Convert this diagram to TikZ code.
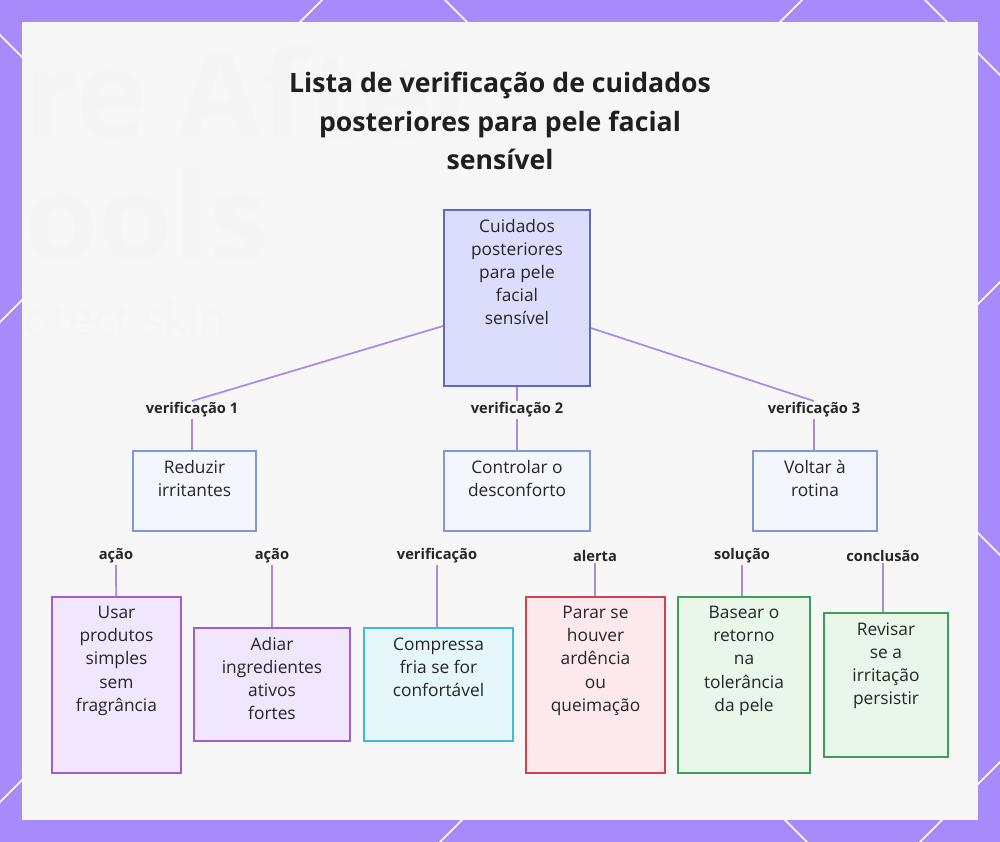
\documentclass[tikz,border=0pt]{standalone}
\usepackage{fontspec}
\setmainfont{Open Sans}
\definecolor{framepurple}{HTML}{A78BFA}
\definecolor{edgepurple}{HTML}{A98BE6}
\definecolor{rootfill}{HTML}{DCDDFC}
\definecolor{rootdraw}{HTML}{5C6BC0}
\definecolor{midfill}{HTML}{F4F6FE}
\definecolor{middraw}{HTML}{7F98DA}
\definecolor{purfill}{HTML}{F0E6FD}
\definecolor{purdraw}{HTML}{A35CCF}
\definecolor{cyanfill}{HTML}{E5F7FA}
\definecolor{cyandraw}{HTML}{3DBDD2}
\definecolor{redfill}{HTML}{FDE9EC}
\definecolor{reddraw}{HTML}{D0424C}
\definecolor{grnfill}{HTML}{E9F6EA}
\definecolor{grndraw}{HTML}{3AA152}
\usetikzlibrary{positioning}
\begin{document}
\begin{tikzpicture}[x=0.75pt,y=-0.75pt]
        \tikzstyle{every node}=[font=\fontsize{13}{17.3}\selectfont, text=black!85]
        \tikzstyle{box}=[draw, line width=1.2pt, inner sep=0pt]
        \tikzstyle{txt}=[anchor=north, align=center, inner sep=0pt, yshift=-7.5pt]
        \tikzstyle{lbl}=[font=\fontsize{11}{14}\selectfont\bfseries, fill=white!97!black, inner sep=1pt]
        \tikzstyle{link}=[draw=edgepurple, line width=1.3pt]

% frame and lattice
        \fill[framepurple] (0,0) rectangle (1000,842);
        \begin{scope}[even odd rule]
            \clip (0,0) rectangle (1000,842) (22,22) rectangle (978,820);
            \foreach \c in {-35,445,925,1405} \draw[white, line width=1.2pt] (\c-900,-900) -- (\c+1900,1900);
            \foreach \c in {322,802,1282,1762} \draw[white, line width=1.2pt] (\c+900,-900) -- (\c-1900,1900);
        \end{scope}
        \fill[white!97!black] (22,22) rectangle (978,820);
        \node[anchor=west, text=black!4, font=\fontsize{90}{90}\selectfont\bfseries] at (20,92) {re After};
        \node[anchor=west, text=black!4, font=\fontsize{90}{90}\selectfont\bfseries] at (20,215) {ools};
        \node[anchor=west, text=black!4, font=\fontsize{34}{34}\selectfont] at (20,318) {otect skin};

% title
        \node[font=\fontsize{20}{29}\selectfont\bfseries, align=center, text=black!88] (title) at (500,121)
            {Lista de verificação de cuidados\\posteriores para pele facial\\sensível};

% boxes
        \node[box, draw=rootdraw, fill=rootfill, minimum width=0.75*146pt, minimum height=0.75*176pt] (root) at (517,298) {};
        \node[txt] at (root.north) {Cuidados\\posteriores\\para pele\\facial\\sensível};
        \node[box, draw=middraw, fill=midfill, minimum width=0.75*123pt, minimum height=0.75*80pt] (irr) at (194.5,491) {};
        \node[txt] at (irr.north) {Reduzir\\irritantes};
        \node[box, draw=middraw, fill=midfill, minimum width=0.75*146pt, minimum height=0.75*80pt] (desc) at (517,491) {};
        \node[txt] at (desc.north) {Controlar o\\desconforto};
        \node[box, draw=middraw, fill=midfill, minimum width=0.75*124pt, minimum height=0.75*80pt] (rot) at (815,491) {};
        \node[txt] at (rot.north) {Voltar à\\rotina};
        \node[box, draw=purdraw, fill=purfill, minimum width=0.75*129pt, minimum height=0.75*176pt] (usar) at (116.5,685) {};
        \node[txt] at (usar.north) {Usar\\produtos\\simples\\sem\\fragrância};
        \node[box, draw=purdraw, fill=purfill, minimum width=0.75*156pt, minimum height=0.75*113pt] (adiar) at (272,684.5) {};
        \node[txt] at (adiar.north) {Adiar\\ingredientes\\ativos\\fortes};
        \node[box, draw=cyandraw, fill=cyanfill, minimum width=0.75*149pt, minimum height=0.75*113pt] (comp) at (438.5,684.5) {};
        \node[txt] at (comp.north) {Compressa\\fria se for\\confortável};
        \node[box, draw=reddraw, fill=redfill, minimum width=0.75*139pt, minimum height=0.75*176pt] (parar) at (595.5,685) {};
        \node[txt] at (parar.north) {Parar se\\houver\\ardência\\ou\\queimação};
        \node[box, draw=grndraw, fill=grnfill, minimum width=0.75*132pt, minimum height=0.75*176pt] (bas) at (744,685) {};
        \node[txt] at (bas.north) {Basear o\\retorno\\na\\tolerância\\da pele};
        \node[box, draw=grndraw, fill=grnfill, minimum width=0.75*124pt, minimum height=0.75*144pt] (rev) at (886,685) {};
        \node[txt] at (rev.north) {Revisar\\se a\\irritação\\persistir};

% labels
        \node[lbl] (v1) at (192,410) {verificação 1};
        \node[lbl] (v2) at (517,410) {verificação 2};
        \node[lbl] (v3) at (814,410) {verificação 3};
        \node[lbl] (a1) at (116,556) {ação};
        \node[lbl] (a2) at (272,556) {ação};
        \node[lbl] (vf) at (437,556) {verificação};
        \node[lbl] (al) at (595,556) {alerta};
        \node[lbl] (so) at (742,556) {solução};
        \node[lbl] (co) at (883,556) {conclusão};

% connectors
        \draw[link] (root.west |- 0,326) -- (v1.north);
        \draw[link] (v1.south) -- (v1.south |- irr.north);
        \draw[link] (root) -- (v2);
        \draw[link] (v2) -- (desc);
        \draw[link] (root.east |- 0,328) -- (v3.north);
        \draw[link] (v3.south) -- (v3.south |- rot.north);
        \draw[link] (a1) -- (usar);
        \draw[link] (a2) -- (adiar);
        \draw[link] (vf) -- (vf |- comp.north);
        \draw[link] (al) -- (al |- parar.north);
        \draw[link] (so) -- (so |- bas.north);
        \draw[link] (co) -- (co |- rev.north);
    \end{tikzpicture}
\end{document}
